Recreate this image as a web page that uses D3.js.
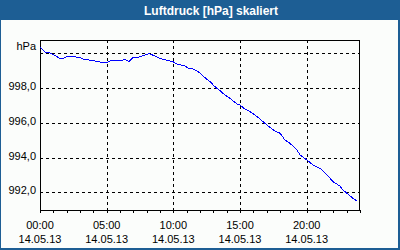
<!DOCTYPE html>
<html><head><meta charset="utf-8">
<script src="https://cdn.jsdelivr.net/npm/d3@7"></script>
<style>body{margin:0;background:#fff}svg{display:block}</style>
</head><body>
<svg id="c" width="400" height="250"></svg>
<script>
const title = "Luftdruck [hPa] skaliert";
const unitLabel = "hPa";
const hours = [0,0.375,0.75,1.5,1.725,2.1,3.0,3.225,4.125,4.5,4.875,5.025,5.25,6.0,6.375,6.675,6.975,7.5,7.875,8.175,8.4,9.0,9.375,9.975,10.275,10.875,11.25,11.475,11.925,12.225,12.75,13.125,13.5,13.875,14.25,14.775,15.0,15.375,15.75,16.125,16.5,16.875,17.25,17.625,18.0,18.375,18.75,19.275,19.5,20.025,20.475,21.0,21.525,21.975,22.5,22.725,23.025,23.475,23.775];
const pressure = [1000.35,1000.07,1000.03,999.71,999.71,999.84,999.77,999.67,999.56,999.50,999.44,999.47,999.57,999.57,999.65,999.52,999.75,999.80,999.90,999.98,999.92,999.71,999.63,999.52,999.38,999.27,999.10,999.10,998.91,998.69,998.37,998.08,997.85,997.60,997.41,997.08,997.02,996.79,996.64,996.45,996.22,995.97,995.74,995.53,995.40,995.01,994.82,994.43,994.15,993.86,993.57,993.38,993.00,992.61,992.36,992.13,991.94,991.65,991.50];
const yTicks = [992,994,996,998];
const yGrid = [992,994,996,998,1000];
const xTicks = [0,5,10,15,20];
const xTimeLabels = ["00:00","05:00","10:00","15:00","20:00"];
const xDateLabels = ["14.05.13","14.05.13","14.05.13","14.05.13","14.05.13"];

const svg = d3.select("#c");
const W=400,H=250;
const blue="#1d5e94";
svg.append("rect").attr("width",W).attr("height",H).attr("fill",blue);
svg.append("rect").attr("x",1).attr("y",20).attr("width",397).attr("height",228).attr("fill","#fbfdfb");
svg.append("text").attr("x",211).attr("y",14.5).attr("text-anchor","middle")
  .attr("font-family","Liberation Sans, Arial, sans-serif").attr("font-weight","bold")
  .attr("font-size","12px").attr("fill","#fff").text(title);

const L=40,R=360,T=40,B=210;
const x=d3.scaleLinear().domain([0,24]).range([L,R]);
const y=d3.scaleLinear().domain([990.98,1000.77]).range([B,T]);
const font="Liberation Sans, Arial, sans-serif";

const g=svg.append("g").attr("shape-rendering","crispEdges");
// grid
g.selectAll(".hg").data(yGrid).join("line")
  .attr("x1",L).attr("x2",R).attr("y1",d=>Math.round(y(d))+0.5).attr("y2",d=>Math.round(y(d))+0.5)
  .attr("stroke","#000").attr("stroke-dasharray","3,3");
g.selectAll(".vg").data(xTicks.filter(d=>d>0)).join("line")
  .attr("y1",T).attr("y2",B).attr("x1",d=>Math.round(x(d))+0.5).attr("x2",d=>Math.round(x(d))+0.5)
  .attr("stroke","#000").attr("stroke-dasharray","3,3");
// frame
g.append("rect").attr("x",L+0.5).attr("y",T+0.5).attr("width",R-L-1).attr("height",B-T)
  .attr("fill","none").attr("stroke","#000");
// x ticks hourly
const xAxis=d3.axisBottom(x).tickValues(d3.range(0,25,1)).tickSize(3).tickFormat("");
const ax=svg.append("g").attr("transform",`translate(0,${B})`).call(xAxis);
ax.select(".domain").remove();
ax.selectAll("line").attr("stroke","#000").attr("shape-rendering","crispEdges");

// line
const line=d3.line().x((d,i)=>x(hours[i])).y(d=>y(d));
svg.append("path").datum(pressure).attr("d",line).attr("fill","none")
  .attr("stroke","#0000ff").attr("stroke-width",1).attr("shape-rendering","crispEdges");

// y labels
svg.selectAll(".yl").data(yTicks).join("text")
  .attr("x",36).attr("y",d=>y(d)+2).attr("text-anchor","end")
  .attr("font-family",font).attr("font-size","11px").attr("fill","#000")
  .text(d=>d3.format(".1f")(d).replace(".",","));
svg.append("text").attr("x",36).attr("y",50).attr("text-anchor","end")
  .attr("font-family",font).attr("font-size","11px").attr("fill","#000").text(unitLabel);
// x labels
svg.selectAll(".xl").data(xTicks).join("text")
  .attr("x",d=>x(d)).attr("y",229).attr("text-anchor","middle")
  .attr("font-family",font).attr("font-size","11px").attr("fill","#000")
  .text((d,i)=>xTimeLabels[i]);
svg.selectAll(".xd").data(xTicks).join("text")
  .attr("x",d=>x(d)).attr("y",243).attr("text-anchor","middle")
  .attr("font-family",font).attr("font-size","11px").attr("fill","#000")
  .text((d,i)=>xDateLabels[i]);
</script>
</body></html>
